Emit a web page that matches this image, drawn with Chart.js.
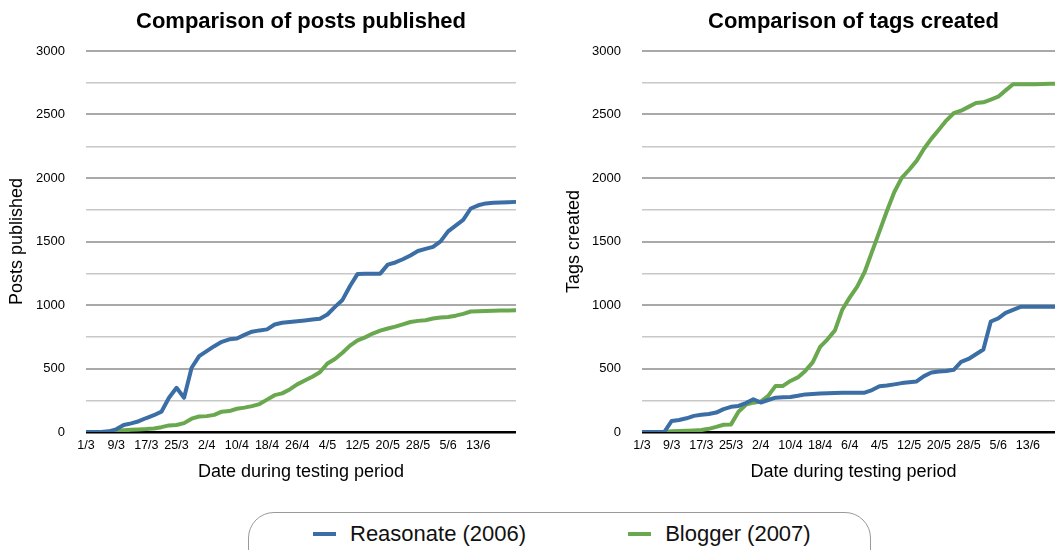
<!DOCTYPE html>
<html>
<head>
<meta charset="utf-8">
<script src="https://cdn.jsdelivr.net/npm/chart.js@4.4.1/dist/chart.umd.min.js"></script>
<style>
    html, body { margin: 0; padding: 0; background: #fff; overflow: hidden; }
    body { width: 1055px; height: 550px; position: relative; font-family: "Liberation Sans", Arial, sans-serif; }
    canvas { position: absolute; top: 0; }
    #postsChart { left: 0; }
    #tagsChart { left: 540px; }
    #legend {
        position: absolute; left: 248px; top: 512px; width: 623px; height: 64px;
        box-sizing: border-box; border: 1px solid #9a9a9a; border-radius: 26px;
        display: flex; align-items: flex-start; padding: 8px 0 0 64px;
    }
    .item { display: flex; align-items: center; flex: none; white-space: nowrap; font-size: 22px; line-height: 25px; color: #111; margin-right: 102px; }
    .swatch { width: 23px; height: 4px; margin-right: 14px; }
</style>
</head>
<body>
<canvas id="postsChart" width="530" height="490"></canvas>
<canvas id="tagsChart" width="525" height="490"></canvas>
<div id="legend"></div>

<script>
// one point every two days, 1/3 .. 23/6
var dates = ['1/3', '3/3', '5/3', '7/3', '9/3', '11/3', '13/3', '15/3', '17/3', '19/3', '21/3', '23/3', '25/3', '27/3', '29/3', '31/3',
    '2/4', '4/4', '6/4', '8/4', '10/4', '12/4', '14/4', '16/4', '18/4', '20/4', '22/4', '24/4', '26/4', '28/4', '30/4',
    '2/5', '4/5', '6/5', '8/5', '10/5', '12/5', '14/5', '16/5', '18/5', '20/5', '22/5', '24/5', '26/5', '28/5', '30/5',
    '1/6', '3/6', '5/6', '7/6', '9/6', '11/6', '13/6', '15/6', '17/6', '19/6', '21/6', '23/6'];

// labels shown under the axis (every 4th point)
var postTickLabels = ['1/3', '9/3', '17/3', '25/3', '2/4', '10/4', '18/4', '26/4', '4/5', '12/5', '20/5', '28/5', '5/6', '13/6'];
var tagTickLabels = ['1/3', '9/3', '17/3', '25/3', '2/4', '10/4', '18/4', '6/4', '4/5', '12/5', '20/5', '28/5', '5/6', '13/6'];

var seriesNames = ['Reasonate (2006)', 'Blogger (2007)'];
var seriesColors = ['#3b6ea5', '#6aa84f'];

var reasonatePosts = [0, 0, 0, 5, 21, 55, 68, 85, 110, 132, 160, 270, 348, 270, 506, 597,
    637, 676, 710, 730, 736, 765, 790, 800, 808, 846, 860, 866, 872, 878, 885,
    891, 925, 985, 1040, 1150, 1245, 1247, 1247, 1247, 1318, 1335, 1360, 1390, 1425, 1442,
    1458, 1501, 1580, 1625, 1670, 1760, 1785, 1800, 1805, 1808, 1810, 1812];
var bloggerPosts = [0, 0, 0, 0, 10, 14, 17, 20, 23, 28, 38, 52, 55, 70, 105, 122,
    125, 135, 160, 165, 183, 192, 204, 220, 255, 290, 304, 335, 375, 405, 435,
    470, 540, 575, 624, 680, 722, 745, 775, 798, 815, 830, 848, 866, 875, 880,
    894, 902, 906, 916, 930, 949, 951, 952, 954, 956, 957, 958];

var reasonateTags = [0, 0, 0, 0, 87, 95, 108, 127, 135, 142, 153, 180, 198, 205, 228, 258,
    232, 252, 270, 274, 276, 285, 296, 300, 303, 305, 307, 309, 310, 310, 310,
    330, 360, 366, 375, 385, 392, 398, 440, 468, 476, 480, 490, 552, 575, 612,
    650, 870, 895, 938, 962, 986, 986, 986, 986, 986, 986, 986];
var bloggerTags = [0, 0, 0, 0, 6, 8, 10, 12, 15, 25, 40, 57, 60, 160, 215, 231,
    240, 284, 363, 363, 402, 430, 481, 548, 670, 730, 800, 965, 1060, 1145, 1260,
    1420, 1580, 1740, 1890, 2001, 2065, 2135, 2230, 2310, 2380, 2452, 2510, 2530, 2560, 2590,
    2596, 2618, 2640, 2690, 2738, 2738, 2738, 2738, 2740, 2742, 2743, 2743];

var FONT = '"Liberation Sans", Arial, sans-serif';

function gridColor(ctx) {
    var v = ctx.tick ? ctx.tick.value : 0;
    if (v === 0) return '#000';
    return v % 500 === 0 ? '#a9a9a9' : '#c8c8c8';
}
function gridWidth(ctx) {
    var v = ctx.tick ? ctx.tick.value : 0;
    if (v === 0) return 2.5;
    return v % 500 === 0 ? 2 : 1.5;
}

function lineSet(i, data) {
    return {
        label: seriesNames[i], data: data, borderColor: seriesColors[i], backgroundColor: seriesColors[i],
        borderWidth: 4, pointRadius: 0, tension: 0, fill: false, borderJoinStyle: 'round'
    };
}

function comparisonChart(id, title, yTitle, tickLabels, a, b, yWidth, yTitlePad) {
    return new Chart(document.getElementById(id), {
        type: 'line',
        data: { labels: dates, datasets: [lineSet(0, a), lineSet(1, b)] },
        options: {
            responsive: false, animation: false, devicePixelRatio: 1,
            layout: { padding: { left: 0, right: id === 'postsChart' ? 14 : 0, top: 0, bottom: 0 } },
            plugins: {
                legend: { display: false },
                tooltip: { enabled: false },
                title: {
                    display: true, text: title, color: '#000', fullSize: false,
                    font: { family: FONT, size: 22, weight: 'bold' },
                    padding: { top: 9, bottom: 15.6 }
                }
            },
            scales: {
                x: {
                    type: 'category',
                    grid: { display: false, drawTicks: false },
                    border: { display: false },
                    ticks: {
                        autoSkip: false, maxRotation: 0, minRotation: 0, padding: 6, color: '#000',
                        font: { family: FONT, size: 12.5 },
                        callback: function (v, i) {
                            return (i % 4 === 0 && i / 4 < tickLabels.length) ? tickLabels[i / 4] : null;
                        }
                    },
                    title: {
                        display: true, text: 'Date during testing period', color: '#000',
                        font: { family: FONT, size: 18 }, padding: { top: 0, bottom: 7 }
                    },
                    afterFit: function (s) { s.height = 58; }
                },
                y: {
                    min: 0, max: 3000,
                    grid: { drawTicks: false, color: gridColor, lineWidth: gridWidth },
                    border: { display: false },
                    ticks: {
                        stepSize: 250, padding: 21, color: '#000',
                        font: { family: FONT, size: 13 },
                        callback: function (v) { return v % 500 === 0 ? v : ''; }
                    },
                    title: {
                        display: true, text: yTitle, color: '#000',
                        font: { family: FONT, size: 18 }, padding: { top: yTitlePad, bottom: 0 }
                    },
                    afterFit: function (s) { s.width = yWidth; }
                }
            }
        }
    });
}

comparisonChart('postsChart', 'Comparison of posts published', 'Posts published', postTickLabels,
    reasonatePosts, bloggerPosts, 86, 6);
comparisonChart('tagsChart', 'Comparison of tags created', 'Tags created', tagTickLabels,
    reasonateTags, bloggerTags, 102, 23);

// shared legend under both charts
var legend = document.getElementById('legend');
seriesNames.forEach(function (name, i) {
    var item = document.createElement('div');
    item.className = 'item';
    var sw = document.createElement('span');
    sw.className = 'swatch';
    sw.style.background = seriesColors[i];
    item.appendChild(sw);
    item.appendChild(document.createTextNode(name));
    legend.appendChild(item);
});
</script>
</body>
</html>
